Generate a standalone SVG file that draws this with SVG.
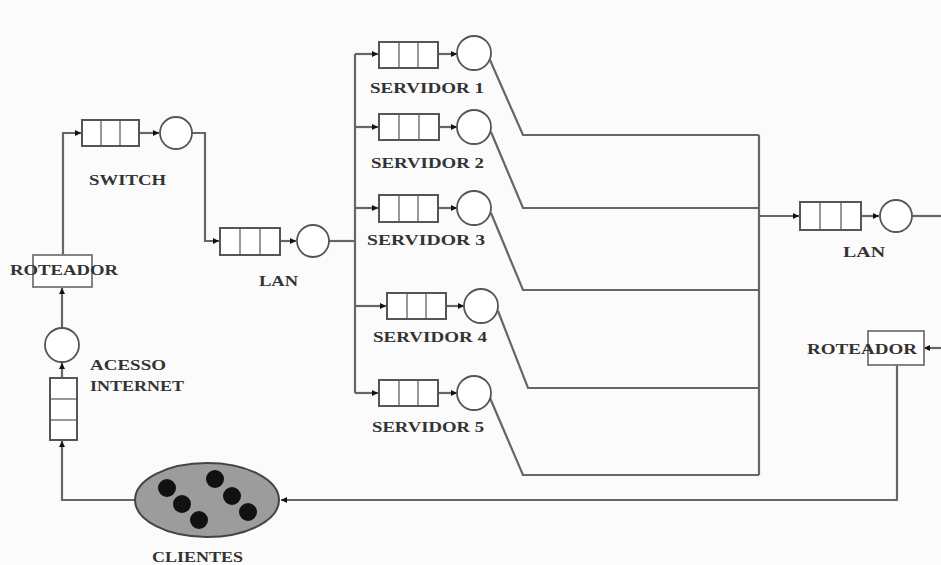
<svg xmlns="http://www.w3.org/2000/svg" width="941" height="565" viewBox="0 0 941 565">
<defs>
<marker id="arr" viewBox="0 0 6 6" refX="6" refY="3" markerWidth="6" markerHeight="6" markerUnits="userSpaceOnUse" orient="auto">
<path d="M0,0 L6,3 L0,6 z" fill="#111"/>
</marker>
</defs>
<style>
.ln{fill:none;stroke:#666;stroke-width:2.2}
.q{fill:#fff;stroke:#555;stroke-width:2}
.dv{stroke:#999;stroke-width:2}
.srv{fill:#fff;stroke:#555;stroke-width:1.8}
.box{fill:#fff;stroke:#777;stroke-width:1.8}
.t{font-family:"Liberation Serif","DejaVu Serif",serif;font-weight:bold;font-size:14px;fill:#333}
</style>
<rect width="941" height="565" fill="#fbfbfb"/>
<g id="connectors">
<path class="ln" d="M63,255 V133 H81" marker-end="url(#arr)"/>
<path class="ln" d="M139,133 H159" marker-end="url(#arr)"/>
<path class="ln" d="M192,133 H205 V241 H219" marker-end="url(#arr)"/>
<path class="ln" d="M280,241 H296" marker-end="url(#arr)"/>
<path class="ln" d="M329,241 H355"/>
<path class="ln" d="M355,54 V393"/>
<path class="ln" d="M355,54 H378" marker-end="url(#arr)"/>
<path class="ln" d="M355,127 H378" marker-end="url(#arr)"/>
<path class="ln" d="M355,208 H378" marker-end="url(#arr)"/>
<path class="ln" d="M355,306 H386" marker-end="url(#arr)"/>
<path class="ln" d="M355,393 H378" marker-end="url(#arr)"/>
<path class="ln" d="M438,54 H457" marker-end="url(#arr)"/>
<path class="ln" d="M438,127 H457" marker-end="url(#arr)"/>
<path class="ln" d="M438,208 H457" marker-end="url(#arr)"/>
<path class="ln" d="M446,306 H464" marker-end="url(#arr)"/>
<path class="ln" d="M438,393 H457" marker-end="url(#arr)"/>
<path class="ln" d="M490,60 L523,135 H759"/>
<path class="ln" d="M491,132 L523,208 H759"/>
<path class="ln" d="M491,213 L523,290 H759"/>
<path class="ln" d="M498,311 L528,388 H759"/>
<path class="ln" d="M490,398 L523,475 H759"/>
<path class="ln" d="M759,135 V475"/>
<path class="ln" d="M759,216 H799" marker-end="url(#arr)"/>
<path class="ln" d="M861,216 H879" marker-end="url(#arr)"/>
<path class="ln" d="M912,216 H941"/>
<path class="ln" d="M941,348 H924" marker-end="url(#arr)"/>
<path class="ln" d="M897,365 V500 H281" marker-end="url(#arr)"/>
<path class="ln" d="M135,500 H62 V441" marker-end="url(#arr)"/>
<path class="ln" d="M62,378 V363" marker-end="url(#arr)"/>
<path class="ln" d="M62,328 V288" marker-end="url(#arr)"/>
</g>
<g id="roteador1">
<rect class="box" x="33" y="255" width="59" height="32"/>
<text class="t" x="10" y="275" textLength="108" lengthAdjust="spacingAndGlyphs">ROTEADOR</text>
</g>
<g id="switch">
<rect class="q" x="82" y="120" width="57" height="26"/>
<line class="dv" x1="101" y1="121" x2="101" y2="145"/>
<line class="dv" x1="120" y1="121" x2="120" y2="145"/>
<circle class="srv" cx="176" cy="133" r="16"/>
<text class="t" x="89" y="185" textLength="77" lengthAdjust="spacingAndGlyphs">SWITCH</text>
</g>
<g id="lan1">
<rect class="q" x="220" y="228" width="60" height="27"/>
<line class="dv" x1="240" y1="229" x2="240" y2="254"/>
<line class="dv" x1="260" y1="229" x2="260" y2="254"/>
<circle class="srv" cx="313" cy="241" r="16"/>
<text class="t" x="259" y="286" textLength="39" lengthAdjust="spacingAndGlyphs">LAN</text>
</g>
<g id="servidor1">
<rect class="q" x="379" y="42" width="59" height="26"/>
<line class="dv" x1="399" y1="43" x2="399" y2="67"/>
<line class="dv" x1="418" y1="43" x2="418" y2="67"/>
<circle class="srv" cx="474" cy="53" r="17"/>
<text class="t" x="370" y="93" textLength="114" lengthAdjust="spacingAndGlyphs">SERVIDOR 1</text>
</g>
<g id="servidor2">
<rect class="q" x="379" y="114" width="60" height="26"/>
<line class="dv" x1="399" y1="115" x2="399" y2="139"/>
<line class="dv" x1="419" y1="115" x2="419" y2="139"/>
<circle class="srv" cx="474" cy="127" r="17"/>
<text class="t" x="371" y="168" textLength="113" lengthAdjust="spacingAndGlyphs">SERVIDOR 2</text>
</g>
<g id="servidor3">
<rect class="q" x="379" y="195" width="59" height="27"/>
<line class="dv" x1="399" y1="196" x2="399" y2="221"/>
<line class="dv" x1="418" y1="196" x2="418" y2="221"/>
<circle class="srv" cx="474" cy="208" r="17"/>
<text class="t" x="367" y="245" textLength="118" lengthAdjust="spacingAndGlyphs">SERVIDOR 3</text>
</g>
<g id="servidor4">
<rect class="q" x="387" y="293" width="59" height="26"/>
<line class="dv" x1="407" y1="294" x2="407" y2="318"/>
<line class="dv" x1="426" y1="294" x2="426" y2="318"/>
<circle class="srv" cx="481" cy="306" r="17"/>
<text class="t" x="373" y="342" textLength="114" lengthAdjust="spacingAndGlyphs">SERVIDOR 4</text>
</g>
<g id="servidor5">
<rect class="q" x="379" y="380" width="59" height="26"/>
<line class="dv" x1="399" y1="381" x2="399" y2="405"/>
<line class="dv" x1="418" y1="381" x2="418" y2="405"/>
<circle class="srv" cx="474" cy="393" r="17"/>
<text class="t" x="372" y="432" textLength="112" lengthAdjust="spacingAndGlyphs">SERVIDOR 5</text>
</g>
<g id="lan2">
<rect class="q" x="800" y="202" width="61" height="28"/>
<line class="dv" x1="820" y1="203" x2="820" y2="229"/>
<line class="dv" x1="841" y1="203" x2="841" y2="229"/>
<circle class="srv" cx="896" cy="216" r="16"/>
<text class="t" x="843" y="257" textLength="42" lengthAdjust="spacingAndGlyphs">LAN</text>
</g>
<g id="roteador2">
<rect class="box" x="868" y="331" width="56" height="34"/>
<text class="t" x="807" y="354" textLength="110" lengthAdjust="spacingAndGlyphs">ROTEADOR</text>
</g>
<g id="acesso-internet">
<circle class="srv" cx="62" cy="345" r="17"/>
<rect class="q" x="50" y="378" width="27" height="62"/>
<line class="dv" x1="51" y1="399" x2="76" y2="399"/>
<line class="dv" x1="51" y1="420" x2="76" y2="420"/>
<text class="t" x="90" y="370" textLength="76" lengthAdjust="spacingAndGlyphs">ACESSO</text>
<text class="t" x="90" y="391" textLength="94" lengthAdjust="spacingAndGlyphs">INTERNET</text>
</g>
<g id="clientes">
<ellipse cx="207" cy="500" rx="72" ry="37" fill="#9c9c9c" stroke="#444" stroke-width="2"/>
<circle cx="167" cy="488" r="9" fill="#111"/>
<circle cx="182" cy="504" r="9" fill="#111"/>
<circle cx="199" cy="520" r="9" fill="#111"/>
<circle cx="215" cy="479" r="9" fill="#111"/>
<circle cx="232" cy="496" r="9" fill="#111"/>
<circle cx="248" cy="512" r="9" fill="#111"/>
<text class="t" x="152" y="562" textLength="91" lengthAdjust="spacingAndGlyphs">CLIENTES</text>
</g>
</svg>
